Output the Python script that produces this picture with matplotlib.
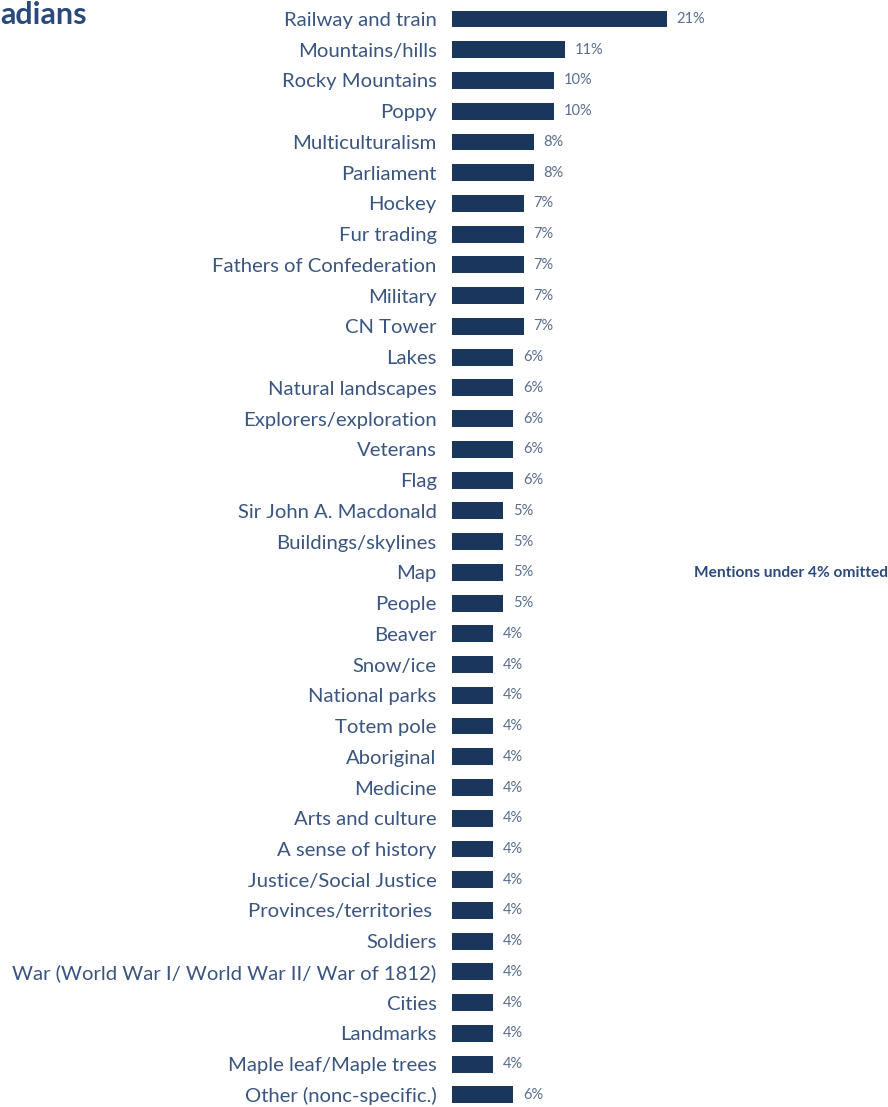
import matplotlib
matplotlib.use("Agg")
from matplotlib import pyplot as plt

categories = [
  "Railway and train", "Mountains/hills", "Rocky Mountains", "Poppy",
  "Multiculturalism", "Parliament", "Hockey", "Fur trading",
  "Fathers of Confederation", "Military", "CN Tower", "Lakes",
  "Natural landscapes", "Explorers/exploration", "Veterans", "Flag",
  "Sir John A. Macdonald", "Buildings/skylines", "Map", "People",
  "Beaver", "Snow/ice", "National parks", "Totem pole", "Aboriginal",
  "Medicine", "Arts and culture", "A sense of history",
  "Justice/Social Justice", "Provinces/territories ", "Soldiers",
  "War (World War I/ World War II/ War of 1812)", "Cities", "Landmarks",
  "Maple leaf/Maple trees", "Other (nonc-specific.)",
]
values = [21, 11, 10, 10, 8, 8, 7, 7, 7, 7, 7, 6, 6, 6, 6, 6, 5, 5, 5, 5,
          4, 4, 4, 4, 4, 4, 4, 4, 4, 4, 4, 4, 4, 4, 4, 6]
title = "adians"  # the title is cropped at the left edge in the original
note = "Mentions under 4% omitted"

BAR = "#1b365d"
LABEL = "#3a5580"
PCT = "#5a6e90"
FONT = ["Lato", "DejaVu Sans"]

W, H = 888, 1107
fig = plt.figure(figsize=(W / 100, H / 100), dpi=100)
plt.rcParams['font.family'] = FONT

step = 30.74
y_top = 19 - step / 2
n = len(categories)
ax_h = step * n
ax = fig.add_axes([452 / W, 1 - (y_top + ax_h) / H, (W - 452) / W, ax_h / H])

ypos = list(range(n))
ax.barh(ypos, values, height=0.55, color=BAR)
ax.set_xlim(0, (W - 452) / 10.24)
ax.set_ylim(n - 0.5, -0.5)
ax.set_yticks(ypos)
ax.set_yticklabels(categories, fontsize=14.6, color=LABEL)
ax.tick_params(axis="y", length=0, pad=11)
ax.set_xticks([])
for s in ax.spines.values():
  s.set_visible(False)

for y, v in zip(ypos, values):
  ax.annotate(f"{v}%", (v, y), xytext=(7, 0), textcoords="offset points",
              va="center", ha="left", fontsize=10.5, color=PCT)

fig.text(0.5 / W, 1 - 0.5 / H, title, ha="left", va="top",
         fontsize=22, fontweight="bold", color="#2a4a7c")
fig.text(1.0, 1 - 573 / H, note, ha="right", va="center",
         fontsize=11.2, fontweight="bold", color="#2a4a7c")

fig.savefig("out.png", dpi=100)
